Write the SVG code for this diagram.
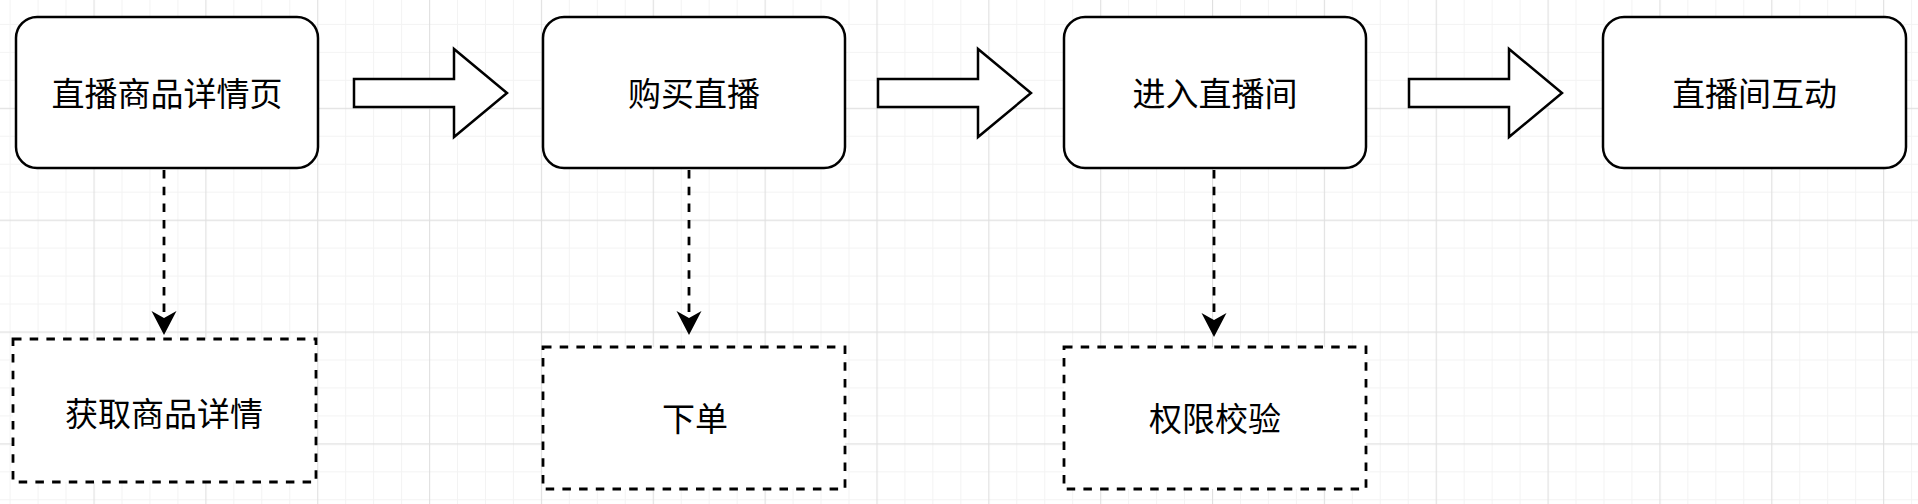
<svg xmlns="http://www.w3.org/2000/svg" width="1918" height="504" viewBox="0 0 1918 504">
  <style>
    .node { fill: #ffffff; stroke: #000000; stroke-width: 2.5; }
    .dnode { fill: #ffffff; stroke: #000000; stroke-width: 2.8; stroke-dasharray: 8.5 8.2; }
    .blk { fill: #ffffff; stroke: #000000; stroke-width: 2.5; stroke-linejoin: miter; }
    .lbl { font-family: "Noto Sans CJK SC", "Noto Sans", sans-serif; font-size: 33px; fill: #000000; text-anchor: middle; }
    .edge { fill: none; stroke: #000000; stroke-width: 2.8; stroke-dasharray: 8.5 8.2; }
    .minor { fill: none; stroke: #f3f3f3; stroke-width: 1; }
    .major { fill: none; stroke: #e0e0e0; stroke-width: 1.3; }
  </style>
  <defs>
    <pattern id="grid" x="93.5" y="107.8" width="111.85" height="111.85" patternUnits="userSpaceOnUse">
      <path class="minor" d="M0 28.46H111.85M0 56.43H111.85M0 84.39H111.85M28.46 0V111.85M56.43 0V111.85M84.39 0V111.85"/>
      <path class="major" d="M0 0.5H111.85M0.5 0V111.85"/>
    </pattern>
    <path id="blockArrow" d="M0 79H100V49L153 93L100 137V107H0Z"/>
  </defs>
  <rect width="1918" height="504" fill="#ffffff"/>
  <rect width="1918" height="504" fill="url(#grid)"/>

  <g id="connectors">
    <use href="#blockArrow" class="blk" transform="translate(354 0)"/>
    <use href="#blockArrow" class="blk" transform="translate(878 0)"/>
    <use href="#blockArrow" class="blk" transform="translate(1409 0)"/>
    <path class="edge" d="M164 170V318"/>
    <path class="edge" d="M689 170V318"/>
    <path class="edge" d="M1214 170V320"/>
    <path d="M164 335L151.5 311L164 318L176.5 311Z" fill="#000000"/>
    <path d="M689 335L676.5 311L689 318L701.5 311Z" fill="#000000"/>
    <path d="M1214 337L1201.5 313L1214 320L1226.5 313Z" fill="#000000"/>
  </g>

  <g id="node-detail-page">
    <rect class="node" x="16" y="17" width="302" height="151" rx="21" ry="21"/>
    <text class="lbl" x="167" y="105.5">直播商品详情页</text>
  </g>
  <g id="node-buy">
    <rect class="node" x="543" y="17" width="302" height="151" rx="21" ry="21"/>
    <text class="lbl" x="694" y="105.5">购买直播</text>
  </g>
  <g id="node-enter">
    <rect class="node" x="1064" y="17" width="302" height="151" rx="21" ry="21"/>
    <text class="lbl" x="1215" y="105.5">进入直播间</text>
  </g>
  <g id="node-interact">
    <rect class="node" x="1603" y="17" width="303" height="151" rx="21" ry="21"/>
    <text class="lbl" x="1754.5" y="105.5">直播间互动</text>
  </g>

  <g id="node-get-detail">
    <rect class="dnode" x="13" y="339" width="303" height="143"/>
    <text class="lbl" x="164" y="425.5">获取商品详情</text>
  </g>
  <g id="node-order">
    <rect class="dnode" x="543" y="347" width="302" height="142"/>
    <text class="lbl" x="695" y="431">下单</text>
  </g>
  <g id="node-auth">
    <rect class="dnode" x="1064" y="347" width="302" height="142"/>
    <text class="lbl" x="1215" y="431">权限校验</text>
  </g>
</svg>
